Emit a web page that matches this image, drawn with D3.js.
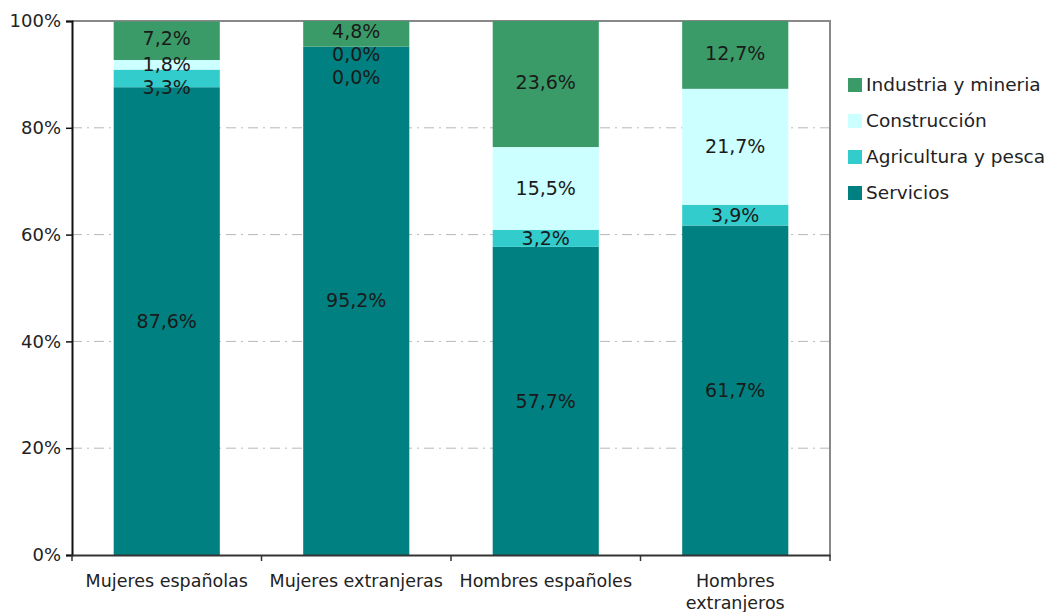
<!DOCTYPE html>
<html>
<head>
<meta charset="utf-8">
<script src="https://cdnjs.cloudflare.com/ajax/libs/d3/7.8.5/d3.min.js"></script>
<style>
body { margin: 0; background: #fff; }
text { font-family: "DejaVu Sans", Verdana, sans-serif; }
</style>
</head>
<body>
<svg width="1054" height="612"></svg>
<script>
// data
var categories = ["Mujeres españolas", "Mujeres extranjeras", "Hombres españoles", "Hombres extranjeros"];
var series = ["Servicios", "Agricultura y pesca", "Construcción", "Industria y mineria"];
var servicios = [87.6, 95.2, 57.7, 61.7];
var agricultura = [3.3, 0.0, 3.2, 3.9];
var construccion = [1.8, 0.0, 15.5, 21.7];
var industria = [7.2, 4.8, 23.6, 12.7];
var yTicks = [0, 20, 40, 60, 80, 100];
var colors = ["#008080", "#33cccc", "#ccffff", "#3a9a68"];

var margin = {top: 21, left: 72, right: 224, bottom: 57};
var svgWidth = 1054, svgHeight = 612;
var w = svgWidth - margin.left - margin.right;
var h = svgHeight - margin.top - margin.bottom;

var svg = d3.select("svg");
var g = svg.append("g").attr("transform", "translate(" + margin.left + "," + margin.top + ")");

var table = categories.map(function(c, i) {
    return {cat: c, "Servicios": servicios[i], "Agricultura y pesca": agricultura[i],
        "Construcción": construccion[i], "Industria y mineria": industria[i]};
});
var stacked = d3.stack().keys(series)(table);

var x = d3.scaleBand().domain(categories).range([0, w]).paddingInner(0.44).paddingOuter(0.22);
var y = d3.scaleLinear().domain([0, 100]).range([h, 0]);

// grid
g.selectAll(".grid").data(yTicks.filter(function(d) { return d > 0 && d < 100; }))
    .enter().append("line")
    .attr("x1", 0).attr("x2", w)
    .attr("y1", function(d) { return y(d); }).attr("y2", function(d) { return y(d); })
    .attr("stroke", "#b8b8b8").attr("stroke-width", 1)
    .attr("stroke-dasharray", "10,5,2,5");

// border top/right
g.append("path").attr("d", "M0,0H" + w + "V" + h)
    .attr("fill", "none").attr("stroke", "#888").attr("stroke-width", 2);

// bars
var layers = g.selectAll(".layer").data(stacked).enter().append("g")
    .attr("fill", function(d, i) { return colors[i]; });
layers.selectAll("rect").data(function(d) { return d; }).enter().append("rect")
    .attr("x", function(d) { return x(d.data.cat); })
    .attr("width", x.bandwidth())
    .attr("y", function(d) { return y(d[1]); })
    .attr("height", function(d) { return y(d[0]) - y(d[1]); });

// value labels, pushed apart when they overlap
var fmt = function(v) { return d3.format(".1f")(v).replace(".", ",") + "%"; };
var labels = [];
categories.forEach(function(c, i) {
    var col = [];
    for (var s = stacked.length - 1; s >= 0; s--) {
        var d = stacked[s][i];
        col.push({cat: c, v: d[1] - d[0], y: y((d[0] + d[1]) / 2)});
    }
    col[0].y -= 2;
    for (var k = 1; k < col.length; k++) {
        if (col[k].y < col[k - 1].y + 23) col[k].y = col[k - 1].y + 23;
    }
    labels = labels.concat(col);
});
g.selectAll(".vl").data(labels).enter().append("text")
    .attr("x", function(d) { return x(d.cat) + x.bandwidth() / 2; })
    .attr("y", function(d) { return d.y; })
    .attr("dy", "0.35em")
    .attr("text-anchor", "middle")
    .attr("font-size", 19)
    .attr("fill", "#1a1a1a")
    .text(function(d) { return fmt(d.v); });

// y axis
var yAxis = g.append("g").call(d3.axisLeft(y).tickValues(yTicks).tickSize(6).tickPadding(5)
    .tickFormat(function(d) { return d + "%"; }));
yAxis.select(".domain").attr("stroke", "#111").attr("stroke-width", 2);
yAxis.selectAll(".tick line").attr("stroke", "#111").attr("stroke-width", 1.5);
yAxis.selectAll("text").attr("font-size", 18).attr("fill", "#222")
    .style("font-family", "'DejaVu Sans', Verdana, sans-serif");

// x axis
var xAxis = g.append("g").attr("transform", "translate(0," + h + ")")
    .call(d3.axisBottom(x).tickSize(0).tickFormat(""));
xAxis.select(".domain").attr("stroke", "#333").attr("stroke-width", 2);
xAxis.selectAll(".tick").remove();
g.selectAll(".xt").data(d3.range(categories.length + 1)).enter().append("line")
    .attr("x1", function(i) { return i * w / categories.length; })
    .attr("x2", function(i) { return i * w / categories.length; })
    .attr("y1", h).attr("y2", h + 6)
    .attr("stroke", "#333").attr("stroke-width", 1.5);

var xl = g.selectAll(".xl").data(categories).enter().append("text")
    .attr("x", function(d) { return x(d) + x.bandwidth() / 2; })
    .attr("y", h + 32)
    .attr("text-anchor", "middle")
    .attr("font-size", 17.5)
    .attr("fill", "#222");
xl.each(function(d) {
    var t = d3.select(this);
    if (d === "Hombres extranjeros") {
        t.append("tspan").attr("x", t.attr("x")).attr("dy", 0).text("Hombres");
        t.append("tspan").attr("x", t.attr("x")).attr("dy", 22).text("extranjeros");
    } else {
        t.text(d);
    }
});

// legend
var legendOrder = series.slice().reverse();
var legend = svg.append("g").attr("transform", "translate(848,85)");
var li = legend.selectAll(".li").data(legendOrder).enter().append("g")
    .attr("transform", function(d, i) { return "translate(0," + i * 36 + ")"; });
li.append("rect").attr("x", 0).attr("y", -7).attr("width", 14).attr("height", 14)
    .attr("fill", function(d) { return colors[series.indexOf(d)]; });
li.append("text").attr("x", 18).attr("dy", "0.35em").attr("font-size", 18.5).attr("fill", "#222")
    .text(function(d) { return d; });
</script>
</body>
</html>
